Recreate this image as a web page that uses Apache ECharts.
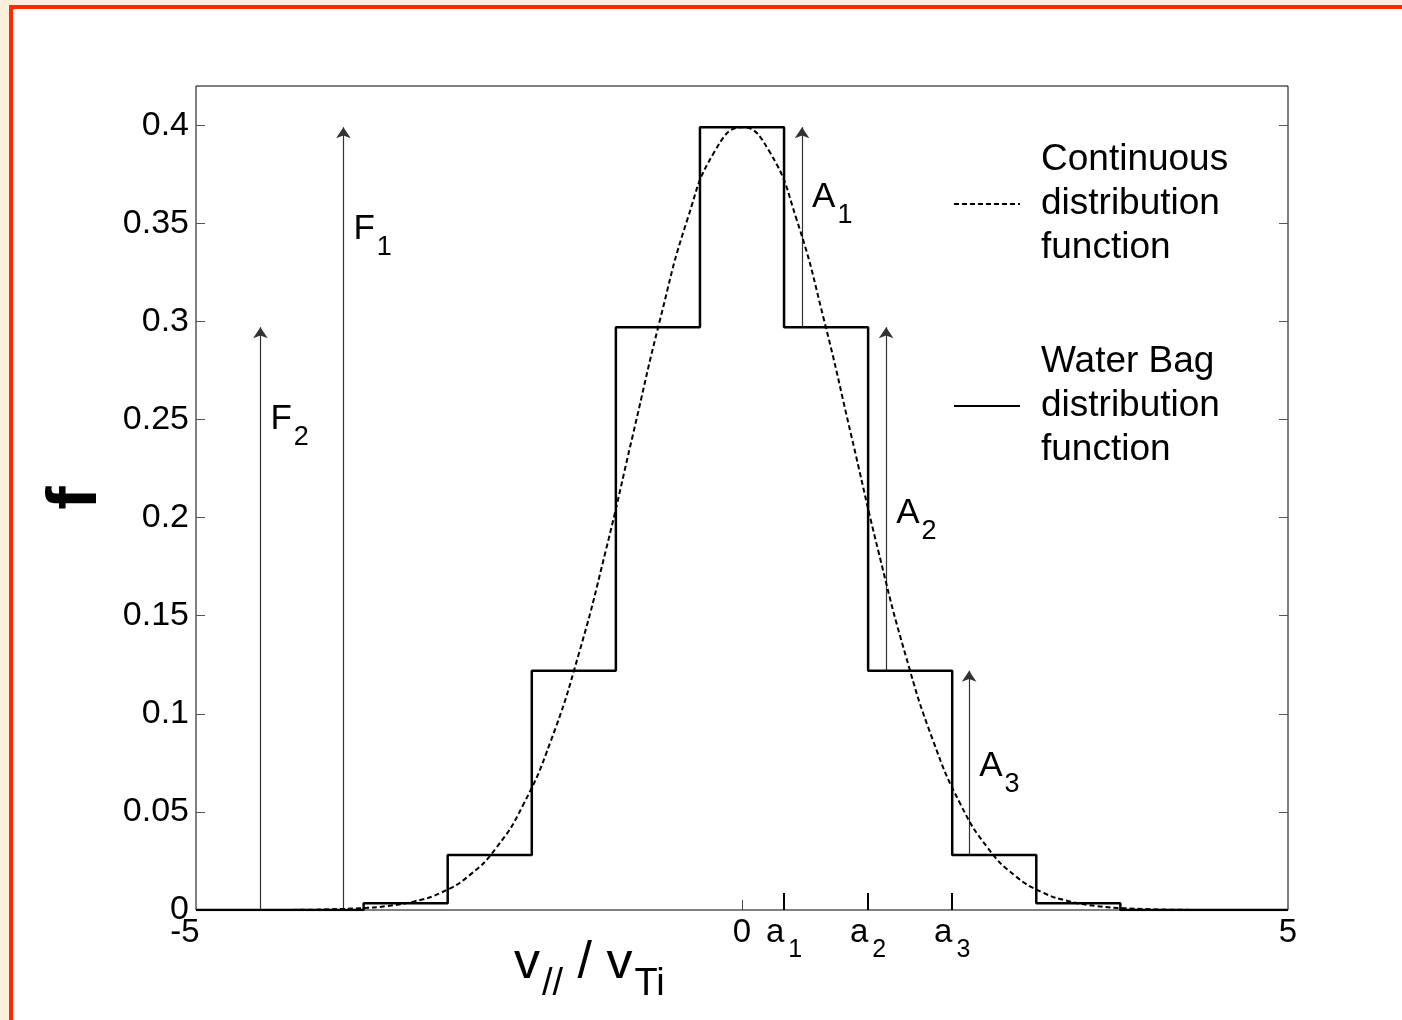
<!DOCTYPE html>
<html>
<head>
<meta charset="utf-8">
<script src="https://cdn.jsdelivr.net/npm/echarts@6/dist/echarts.min.js"></script>
<style>
  html, body { margin: 0; padding: 0; background: #fff; }
  #chart { width: 1402px; height: 1020px; }
</style>
</head>
<body>
<div id="chart"></div>
<script>
// water bag edges (+/- a_k) and levels
const stepEdges = [-3.465, -2.695, -1.925, -1.155, -0.385, 0.385, 1.155, 1.925, 2.695, 3.465]
const stepLevels = [0.0035, 0.028, 0.122, 0.297, 0.399, 0.297, 0.122, 0.028, 0.0035]

// continuous distribution
const curveX = [-5, -4.5, -4, -3.75, -3.5, -3.25, -3, -2.75, -2.5, -2.25, -2, -1.75, -1.5, -1.25, -1, -0.75, -0.5, -0.25,
  0, 0.25, 0.5, 0.75, 1, 1.25, 1.5, 1.75, 2, 2.25, 2.5, 2.75, 3, 3.25, 3.5, 3.75, 4, 4.5, 5]
const curveY = [0, 0, 0.0001, 0.0004, 0.0009, 0.002, 0.0044, 0.009, 0.0175, 0.0317, 0.054, 0.0863, 0.1295, 0.1826, 0.242, 0.301, 0.352, 0.3867,
  0.399, 0.3867, 0.352, 0.301, 0.242, 0.1826, 0.1295, 0.0863, 0.054, 0.0317, 0.0175, 0.009, 0.0044, 0.002, 0.0009, 0.0004, 0.0001, 0, 0]

// arrows F2, F1, A1, A2, A3
const arrowNames = ['F2', 'F1', 'A1', 'A2', 'A3']
const arrowX = [-4.41, -3.65, 0.55, 1.32, 2.08]
const arrowFrom = [0, 0, 0.297, 0.122, 0.028]
const arrowTo = [0.297, 0.399, 0.399, 0.297, 0.122]
const arrowLabelY = [0.25, 0.347, 0.363, 0.202, 0.073]

const xTickValues = [-5, 0, 0.385, 1.155, 1.925, 5]
const xTickLabels = ['-5', '0', 'a1', 'a2', 'a3', '5']
const yTickValues = [0, 0.05, 0.1, 0.15, 0.2, 0.25, 0.3, 0.35, 0.4]
const yTickLabels = ['0', '0.05', '0.1', '0.15', '0.2', '0.25', '0.3', '0.35', '0.4']

const FONT = "'Liberation Sans', Arial, sans-serif"

function subText(s) {
  // 'a1' -> a with subscript 1
  if (s.length === 2 && /[A-Za-z]/.test(s[0])) {
    return '{m|' + s[0] + '}{s|' + s[1] + '}'
  }
  if (s === '-5') return '{neg|' + s + '}'
  return '{m|' + s + '}'
}

const chart = echarts.init(document.getElementById('chart'))

// build step outline
const stepData = [[-5, 0], [stepEdges[0], 0]]
for (let i = 0; i < stepLevels.length; i++) {
  stepData.push([stepEdges[i], stepLevels[i]])
  stepData.push([stepEdges[i + 1], stepLevels[i]])
}
stepData.push([stepEdges[stepEdges.length - 1], 0])
stepData.push([5, 0])

const curveData = curveX.map((x, i) => [x, curveY[i]])

const arrowData = arrowX.map((x, i) => ({ coords: [[x, arrowFrom[i]], [x, arrowTo[i]]] }))
const arrowLabelData = arrowX.map((x, i) => ({ value: [x, arrowLabelY[i]], name: arrowNames[i] }))

const richTick = {
  m: { fontSize: 33, fontFamily: FONT, color: '#000', verticalAlign: 'top', lineHeight: 34 },
  neg: { fontSize: 33, fontFamily: FONT, color: '#000', verticalAlign: 'top', lineHeight: 34, padding: [0, 22, 0, 0] },
  s: { fontSize: 25, fontFamily: FONT, color: '#000', verticalAlign: 'top', lineHeight: 26, padding: [22, 0, 0, 4] }
}

chart.setOption({
  backgroundColor: '#fff',
  animation: false,
  textStyle: { fontFamily: FONT },
  grid: {
    left: 196, right: 114, top: 86, bottom: 110,
    show: true, borderColor: '#000', borderWidth: 1
  },
  legend: {
    orient: 'vertical',
    left: 953, top: 138,
    padding: 0,
    itemGap: 70,
    itemWidth: 66,
    itemHeight: 10,
    selectedMode: false,
    itemStyle: { opacity: 0 },
    textStyle: { fontSize: 37, lineHeight: 44, color: '#000', fontFamily: FONT, padding: [0, 0, 0, 16] },
    data: ['Continuous\ndistribution\nfunction', 'Water Bag\ndistribution\nfunction']
  },
  xAxis: [{
    type: 'value', min: -5, max: 5,
    axisLine: { show: false, onZero: false },
    splitLine: { show: false },
    axisTick: { show: true, inside: true, length: 10, customValues: [0], lineStyle: { color: '#444', width: 1 } },
    axisLabel: {
      show: true, margin: 6,
      customValues: xTickValues,
      formatter: function (v) {
        let idx = 0
        xTickValues.forEach((t, i) => { if (Math.abs(t - v) < 1e-6) idx = i })
        return subText(xTickLabels[idx])
      },
      rich: richTick
    }
  }, {
    type: 'value', min: -5, max: 5, position: 'bottom',
    axisLine: { show: false, onZero: false },
    splitLine: { show: false },
    axisLabel: { show: false },
    axisTick: { show: true, inside: true, length: 17, customValues: xTickValues.slice(2, 5), lineStyle: { color: '#000', width: 2 } }
  }],
  yAxis: [{
    type: 'value', min: 0, max: 0.42,
    name: 'f', nameLocation: 'middle', nameGap: 82, nameRotate: 90,
    nameTextStyle: { fontSize: 70, fontWeight: 'bold', color: '#000', fontFamily: FONT },
    axisLine: { show: false, onZero: false },
    splitLine: { show: false },
    axisTick: { show: true, inside: true, length: 9, customValues: yTickValues, lineStyle: { color: '#555' } },
    axisLabel: {
      margin: 7, fontSize: 34, color: '#000', fontFamily: FONT,
      customValues: yTickValues,
      formatter: function (v) {
        let idx = 0
        yTickValues.forEach((t, i) => { if (Math.abs(t - v) < 1e-6) idx = i })
        return yTickLabels[idx]
      }
    }
  }, {
    type: 'value', min: 0, max: 0.42, position: 'right',
    axisLine: { show: false, onZero: false },
    splitLine: { show: false },
    axisLabel: { show: false },
    axisTick: { show: true, inside: true, length: 9, customValues: yTickValues, lineStyle: { color: '#555' } }
  }],
  graphic: [
    // page frame: beige margin and red border along top/left
    { type: 'rect', left: 0, top: 0, shape: { width: 1402, height: 5 }, style: { fill: '#fbefd9' }, silent: true },
    { type: 'rect', left: 0, top: 0, shape: { width: 9, height: 1020 }, style: { fill: '#fbefd9' }, silent: true },
    { type: 'rect', left: 9, top: 5, shape: { width: 1393, height: 4 }, style: { fill: '#ff2a00' }, silent: true },
    { type: 'rect', left: 9, top: 5, shape: { width: 4, height: 1015 }, style: { fill: '#ff2a00' }, silent: true },
    {
      type: 'text', left: 514, top: 938,
      style: {
        text: '{m|v}{s|//}{m| / v}{s|Ti}',
        rich: {
          m: { fontSize: 52, fontFamily: FONT, fill: '#000', verticalAlign: 'top', lineHeight: 52 },
          s: { fontSize: 38, fontFamily: FONT, fill: '#000', verticalAlign: 'top', lineHeight: 38, padding: [28, 0, 0, 2] }
        }
      }
    }
  ],
  series: [{
    name: 'Water Bag\ndistribution\nfunction',
    type: 'line',
    data: stepData,
    symbol: 'none',
    lineStyle: { color: '#000', width: 2.5 },
    itemStyle: { color: '#000' },
    z: 3
  }, {
    name: 'Continuous\ndistribution\nfunction',
    type: 'line',
    data: curveData,
    smooth: true,
    symbol: 'none',
    lineStyle: { color: '#000', width: 2, type: [5, 3] },
    itemStyle: { color: '#000' },
    z: 4
  }, {
    type: 'lines',
    coordinateSystem: 'cartesian2d',
    data: arrowData,
    symbol: ['none', 'arrow'],
    symbolSize: [1, 11],
    lineStyle: { color: '#333', width: 1.2, opacity: 1, curveness: 0 },
    z: 2
  }, {
    type: 'scatter',
    data: arrowLabelData,
    symbolSize: 0,
    itemStyle: { opacity: 1, color: '#000' },
    label: {
      show: true, position: 'right', distance: 10, color: '#000', opacity: 1,
      formatter: p => subText(p.name),
      rich: {
        m: { fontSize: 35, fontFamily: FONT, color: '#000', verticalAlign: 'top', lineHeight: 35 },
        s: { fontSize: 27, fontFamily: FONT, color: '#000', verticalAlign: 'top', lineHeight: 27, padding: [22, 0, 0, 2] }
      }
    },
    z: 5
  }]
})
</script>
</body>
</html>
